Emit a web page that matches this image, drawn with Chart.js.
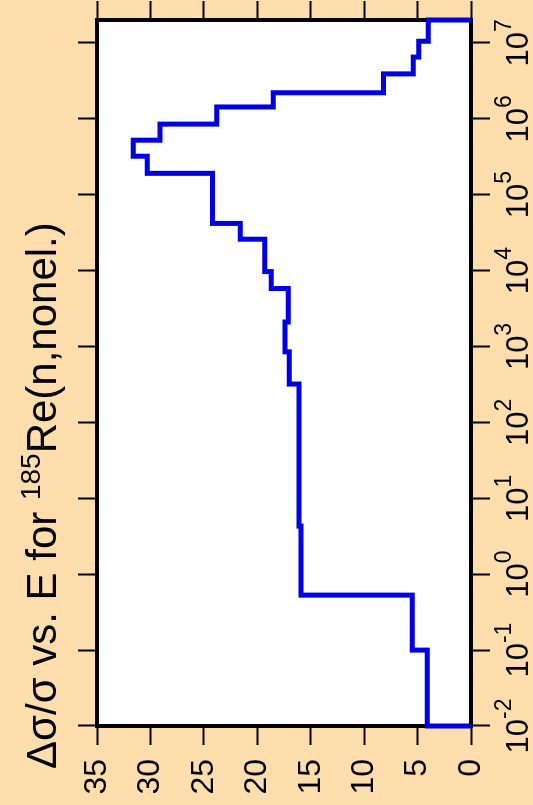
<!DOCTYPE html>
<html>
<head>
<meta charset="utf-8">
<script src="https://cdn.jsdelivr.net/npm/chart.js@4.4.0/dist/chart.umd.min.js"></script>
<style>
  html, body { margin: 0; padding: 0; background: #ffdead; overflow: hidden; }
  #wrap {
    position: absolute; left: 0; top: 0; width: 805px; height: 533px;
    transform-origin: 0 0;
    /* chart is drawn landscape, then turned so energy runs bottom to top */
    transform: translate(0px, 805px) rotate(-90deg);
  }
  canvas { display: block; }
</style>
</head>
<body>
<div id="wrap"><canvas id="myChart" width="805" height="533"></canvas></div>
<script>
// bin edges in eV and relative uncertainty (%) in each bin
const energyEdges = [1e-2, 0.1, 0.53, 4.3, 320, 850, 2100, 5800, 9700, 25900, 41800,
                     1.91e5, 3.21e5, 5.22e5, 8.5e5, 1.43e6, 2.2e6, 3.9e6, 6.5e6, 1.05e7, 2e7];
const relUnc = [4.1, 5.5, 15.9, 16.1, 17.0, 17.4, 17.1, 18.7, 19.3, 21.6,
                24.2, 30.3, 31.6, 29.1, 23.8, 18.5, 8.2, 5.4, 4.9, 4.0];
const energyTicks = [1e-2, 1e-1, 1e0, 1e1, 1e2, 1e3, 1e4, 1e5, 1e6, 1e7];
const uncTicks = [0, 5, 10, 15, 20, 25, 30, 35];
const titlePre = 'Δσ/σ vs. E for ';
const titleIso = '185';
const titlePost = 'Re(n,nonel.)';

const FONT = '"Liberation Sans", Arial, Helvetica, sans-serif';

// step histogram points, closed to zero at both ends
const points = [{ x: energyEdges[0], y: 0 }];
relUnc.forEach((v, i) => points.push({ x: energyEdges[i], y: v }));
points.push({ x: energyEdges[energyEdges.length - 1], y: 0 });

const tickGrid = { drawOnChartArea: false, drawTicks: true, tickLength: 19, tickWidth: 2, color: '#000' };

const framePlugin = {
  id: 'frame',
  beforeDraw(chart) {
    const a = chart.chartArea, ctx = chart.ctx;
    ctx.save();
    ctx.fillStyle = '#ffffff';
    ctx.fillRect(a.left, a.top, a.right - a.left, a.bottom - a.top);
    ctx.restore();
  },
  beforeDatasetsDraw(chart) {
    const a = chart.chartArea, ctx = chart.ctx;
    ctx.save();
    ctx.strokeStyle = '#000';
    ctx.lineWidth = 4;
    ctx.strokeRect(a.left, a.top, a.right - a.left, a.bottom - a.top);
    ctx.restore();
  },
  afterDraw(chart) {
    const ctx = chart.ctx;
    ctx.save();
    ctx.fillStyle = '#000';
    ctx.textBaseline = 'alphabetic';
    // title with superscript mass number
    let x = 36;
    const y = 56;
    ctx.font = '42px ' + FONT;
    ctx.fillText(titlePre, x, y);
    x += ctx.measureText(titlePre).width;
    ctx.font = '28px ' + FONT;
    ctx.fillText(titleIso, x, y - 16);
    x += ctx.measureText(titleIso).width;
    ctx.font = '42px ' + FONT;
    ctx.fillText(titlePost, x, y);

    // energy labels 10^n
    const xs = chart.scales.x;
    energyTicks.forEach(v => {
      const px = xs.getPixelForValue(v);
      const ex = String(Math.round(Math.log10(v)));
      ctx.font = '31px ' + FONT;
      const w1 = ctx.measureText('10').width;
      ctx.font = '23px ' + FONT;
      const w2 = ctx.measureText(ex).width;
      const x0 = px - (w1 + w2) / 2;
      ctx.font = '31px ' + FONT;
      ctx.fillText('10', x0, 528);
      ctx.font = '23px ' + FONT;
      ctx.fillText(ex, x0 + w1, 511);
    });
    ctx.restore();
  }
};

const ctx = document.getElementById('myChart').getContext('2d');
const myChart = new Chart(ctx, {
  type: 'line',
  data: {
    datasets: [{
      data: points,
      stepped: 'before',
      borderColor: '#0000e6',
      borderWidth: 5,
      pointRadius: 0,
      fill: false,
      clip: false
    }]
  },
  options: {
    responsive: false,
    devicePixelRatio: 1,
    animation: false,
    layout: { padding: { top: 78, left: 0, right: 0, bottom: 0 } },
    plugins: { legend: { display: false }, tooltip: { enabled: false }, title: { display: false } },
    scales: {
      x: {
        type: 'logarithmic', position: 'bottom', min: 1e-2, max: 2e7,
        afterBuildTicks: s => { s.ticks = energyTicks.map(v => ({ value: v })); },
        afterFit: s => { s.height = 62; },
        ticks: { display: false },
        grid: tickGrid,
        border: { display: false }
      },
      xTop: {
        type: 'logarithmic', position: 'top', min: 1e-2, max: 2e7,
        afterBuildTicks: s => { s.ticks = energyTicks.map(v => ({ value: v })); },
        afterFit: s => { s.height = 19; },
        ticks: { display: false },
        grid: tickGrid,
        border: { display: false }
      },
      y: {
        type: 'linear', position: 'left', min: 0, max: 35,
        afterBuildTicks: s => { s.ticks = uncTicks.map(v => ({ value: v })); },
        afterFit: s => { s.width = 79; },
        ticks: { color: '#000', padding: 14, font: { size: 32, family: FONT } },
        grid: tickGrid,
        border: { display: false }
      },
      yRight: {
        type: 'linear', position: 'right', min: 0, max: 35,
        afterBuildTicks: s => { s.ticks = uncTicks.map(v => ({ value: v })); },
        afterFit: s => { s.width = 20; },
        ticks: { display: false },
        grid: tickGrid,
        border: { display: false }
      }
    }
  },
  plugins: [framePlugin]
});
</script>
</body>
</html>
